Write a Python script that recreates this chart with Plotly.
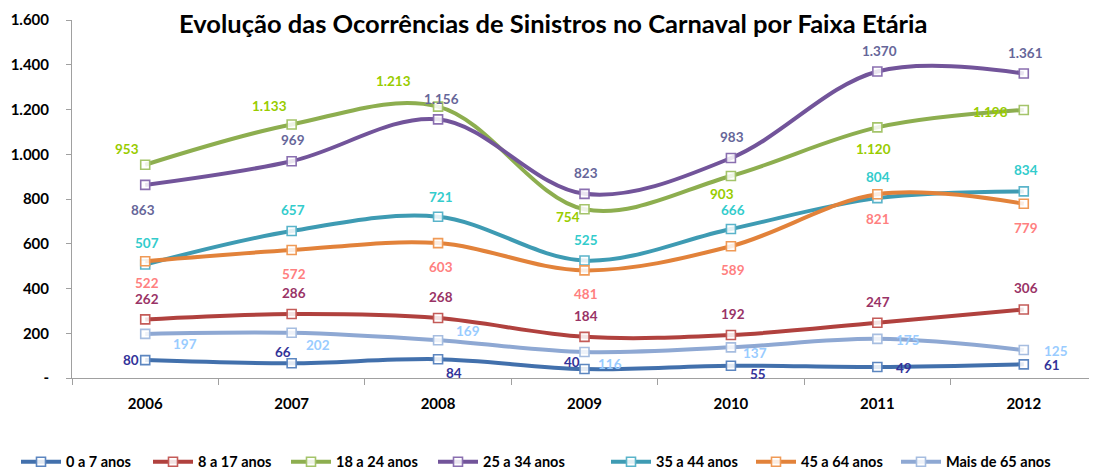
import plotly.graph_objects as go

years = ["2006", "2007", "2008", "2009", "2010", "2011", "2012"]
series_names = ["0 a 7 anos", "8 a 17 anos", "18 a 24 anos", "25 a 34 anos",
                "35 a 44 anos", "45 a 64 anos", "Mais de 65 anos"]

v_0_7 = [80, 66, 84, 40, 55, 49, 61]
v_8_17 = [262, 286, 268, 184, 192, 247, 306]
v_18_24 = [953, 1133, 1213, 754, 903, 1120, 1198]
v_25_34 = [863, 969, 1156, 823, 983, 1370, 1361]
v_35_44 = [507, 657, 721, 525, 666, 804, 834]
v_45_64 = [522, 572, 603, 481, 589, 821, 779]
v_65 = [197, 202, 169, 116, 137, 175, 125]

y_tick_vals = [0, 200, 400, 600, 800, 1000, 1200, 1400, 1600]
y_tick_text = ["-", "200", "400", "600", "800", "1.000", "1.200", "1.400", "1.600"]

all_values = [v_0_7, v_8_17, v_18_24, v_25_34, v_35_44, v_45_64, v_65]

# styles
line_colors = ["#4270AC", "#B0413E", "#8DAE4F", "#72549A", "#3E9BB3", "#E2823A", "#8EA8D3"]
marker_colors = ["#5C86C0", "#C45B58", "#A4C46A", "#8A6FB0", "#5AB4CA", "#F09A56", "#A6BDE0"]
label_colors = ["#333399", "#993366", "#99CC00", "#666699", "#33CCCC", "#FF8080", "#99CCFF"]

# legend entry left positions (px in figure)
legend_x_px = [8, 140, 278, 425, 598, 743, 888]

# label offsets in pixels (dx, dy up-positive)
label_dx = [
    [-14, -9, 16, -13, 27, 27, 28],
    [2, 2, 3, 1, 2, 1, 2],
    [-18, -22, -45, -17, -9, -4, -33],
    [-2, 1, 3, 1, 1, 2, 2],
    [2, 1, 3, 1, 2, 1, 2],
    [2, 2, 3, 1, 2, 1, 2],
    [40, 26, 30, 25, 24, 31, 32],
]
label_dy = [
    [0, 11, -14, 7, -8, -1, -1],
    [20, 21, 21, 21, 21, 21, 22],
    [16, 18, 26, -8, -18, -22, -2],
    [-25, 21, 20, 21, 21, 20, 20],
    [22, 21, 20, 21, 19, 21, 21],
    [-22, -24, -24, -24, -24, -25, -24],
    [-10, -12, 9, -12, -6, -1, -1],
]

FONT = "Lato"
FIG_W, FIG_H = 1089, 465

def fmt(v):
    return f"{v:,}".replace(",", ".")

fig = go.Figure()
annotations = []
legend_layouts = {}
for i, (name, vals) in enumerate(zip(series_names, all_values)):
    leg_id = "legend" if i == 0 else f"legend{i + 1}"
    fig.add_trace(go.Scatter(
        x=years, y=vals, name=name, mode="lines+markers",
        legend=leg_id,
        line=dict(color=line_colors[i], width=4, shape="spline", smoothing=1.0),
        marker=dict(symbol="square", size=9, color="rgba(255,255,255,0.85)",
                    line=dict(color=marker_colors[i], width=1.6)),
    ))
    legend_layouts[leg_id] = dict(
        orientation="h", x=legend_x_px[i] / FIG_W, xref="container", xanchor="left",
        y=0.024, yref="container", yanchor="middle",
        font=dict(family=FONT, size=14.5, color="#000000", weight="bold"),
        itemwidth=40, bgcolor="rgba(0,0,0,0)",
    )
    for j, v in enumerate(vals):
        annotations.append(dict(
            x=j, y=v, xref="x", yref="y", text=fmt(v), showarrow=False,
            xshift=label_dx[i][j], yshift=label_dy[i][j],
            font=dict(family=FONT, size=13.5, color=label_colors[i], weight="bold"),
        ))

annotations.append(dict(
    x=0.5, y=1.0, xref="paper", yref="paper", yanchor="middle",
    xshift=-31, yshift=-3,
    text="<b>Evolução das Ocorrências de Sinistros no Carnaval por Faixa Etária</b>",
    showarrow=False, font=dict(family=FONT, size=25.5, color="#000000"),
))

fig.update_layout(
    width=FIG_W, height=FIG_H,
    margin=dict(l=64, r=0, t=12, b=95, autoexpand=False),
    paper_bgcolor="white", plot_bgcolor="white",
    showlegend=True,
    annotations=annotations,
    font=dict(family=FONT),
    **legend_layouts,
)
fig.update_xaxes(
    type="category", tickson="boundaries", ticks="outside", ticklen=6,
    tickcolor="#A0A0A0", showline=True, linecolor="#A0A0A0", linewidth=1,
    showgrid=False, tickfont=dict(family=FONT, size=15, color="#000000", weight="bold"),
    range=[-0.5, 6.5], ticklabelstandoff=12, automargin=False,
)
fig.update_yaxes(
    range=[0, 1600], tickvals=y_tick_vals, ticktext=y_tick_text,
    ticks="outside", ticklen=5, tickcolor="#A0A0A0", showline=True,
    linecolor="#A0A0A0", linewidth=1, showgrid=False, zeroline=False,
    tickfont=dict(family=FONT, size=15, color="#000000", weight="bold"),
    ticklabelstandoff=14, automargin=False,
)

fig.write_html("out.html")
